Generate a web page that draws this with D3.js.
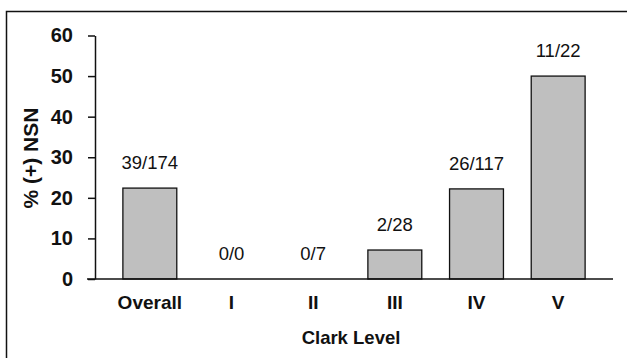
<!DOCTYPE html>
<html>
<head>
<meta charset="utf-8">
<script src="https://cdn.jsdelivr.net/npm/d3@7/dist/d3.min.js"></script>
<style>
  html, body { margin: 0; padding: 0; background: #fff; }
  svg { display: block; }
  text { font-family: "Liberation Sans", Arial, Helvetica, sans-serif; fill: #111; }
</style>
</head>
<body>
<svg id="chart" width="627" height="358"></svg>
<script>
const categories = ["Overall", "I", "II", "III", "IV", "V"];
const values = [22.4, 0, 0, 7.14, 22.2, 50.0];
const barLabels = ["39/174", "0/0", "0/7", "2/28", "26/117", "11/22"];
const yTicks = [0, 10, 20, 30, 40, 50, 60];
const xTitle = "Clark Level";
const yTitle = "% (+) NSN";

const W = 627, H = 358;
const svg = d3.select("#chart");

// outer frame (top and left edges visible)
svg.append("path")
  .attr("d", `M6.5,${H} L6.5,11.5 L${W},11.5`)
  .attr("fill", "none").attr("stroke", "#111").attr("stroke-width", 1.5);

const x = d3.scaleBand().domain(categories).range([109, 599])
  .paddingInner(0.34).paddingOuter(0.17);
const y = d3.scaleLinear().domain([0, 60]).range([279, 35.5]);

// bars
svg.append("g").selectAll("rect").data(categories).join("rect")
  .attr("x", d => x(d))
  .attr("width", x.bandwidth())
  .attr("y", (d, i) => y(values[i]))
  .attr("height", (d, i) => y(0) - y(values[i]))
  .attr("fill", "#bfbfbf")
  .attr("stroke", "#111").attr("stroke-width", 1.3);

// bar labels
svg.append("g").selectAll("text").data(categories).join("text")
  .attr("x", d => x(d) + x.bandwidth() / 2)
  .attr("y", (d, i) => y(values[i]) - 19)
  .attr("text-anchor", "middle")
  .attr("font-size", 18.5)
  .text((d, i) => barLabels[i]);

// y axis
const yAxis = svg.append("g").attr("transform", "translate(95,0)")
  .call(d3.axisLeft(y).tickValues(yTicks).tickSize(7).tickPadding(15).tickSizeOuter(0));
yAxis.select(".domain").attr("stroke", "#111").attr("stroke-width", 1.5);
yAxis.selectAll(".tick line").attr("stroke", "#111").attr("stroke-width", 1.5);
yAxis.selectAll(".tick text")
  .attr("font-size", 20).attr("font-weight", "bold")
  .attr("font-family", "Liberation Sans, Arial, sans-serif").attr("fill", "#111");

// x axis baseline
svg.append("line")
  .attr("x1", 87).attr("x2", 613)
  .attr("y1", y(0)).attr("y2", y(0))
  .attr("stroke", "#111").attr("stroke-width", 1.5);

// x tick labels
svg.append("g").selectAll("text").data(categories).join("text")
  .attr("x", d => x(d) + x.bandwidth() / 2)
  .attr("y", 309)
  .attr("text-anchor", "middle")
  .attr("font-size", 19).attr("font-weight", "bold")
  .text(d => d);

// axis titles
svg.append("text")
  .attr("x", 351).attr("y", 344)
  .attr("text-anchor", "middle")
  .attr("font-size", 18.5).attr("font-weight", "bold")
  .text(xTitle);

svg.append("text")
  .attr("transform", "translate(38,158) rotate(-90)")
  .attr("text-anchor", "middle")
  .attr("font-size", 21).attr("font-weight", "bold")
  .text(yTitle);
</script>
</body>
</html>
